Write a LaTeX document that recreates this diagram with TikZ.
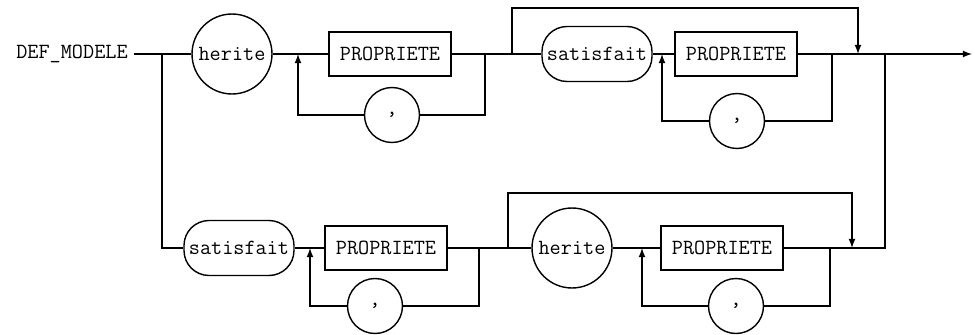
\documentclass[tikz,border=0pt]{standalone}
\usepackage{tikz}
\usetikzlibrary{positioning,arrows,calc}

\begin{document}
\begin{tikzpicture}[x=0.02cm, y=-0.02cm, thick, >=latex,
    every node/.style={font=\ttfamily\fontsize{12.3}{14}\selectfont},
    prop/.style={draw, rectangle, minimum width=2.44cm, minimum height=0.88cm, inner sep=0pt},
    rond/.style={draw, circle, minimum size=1.6cm, inner sep=0pt},
    virg/.style={draw, circle, minimum size=1.1cm, inner sep=0pt},
    ovale/.style={draw, rectangle, rounded corners=0.5cm, minimum width=2.2cm, minimum height=1.1cm, inner sep=0pt}]
    \useasboundingbox (0,0) rectangle (975,335);

    % premiere branche
    \node (def) at (72,54) {DEF\_MODELE};
    \node[rond] (herite1) at (232,54) {herite};
    \node[prop] (prop1) at (390,54) {PROPRIETE};
    \node[virg] (virg1) at (392,115) {,};
    \node[ovale] (sat1) at (597,54) {satisfait};
    \node[prop] (prop2) at (736,54) {PROPRIETE};
    \node[virg] (virg2) at (737,121) {,};

    % seconde branche
    \node[ovale] (sat2) at (239,248) {satisfait};
    \node[prop] (prop3) at (386,248) {PROPRIETE};
    \node[virg] (virg3) at (375,306) {,};
    \node[rond] (herite2) at (572,248) {herite};
    \node[prop] (prop4) at (722,248) {PROPRIETE};
    \node[virg] (virg4) at (736,306) {,};

    % points de jonction
    \coordinate (bas) at (162,54);
    \coordinate (b1) at (485,54);
    \coordinate (r1) at (298,54);
    \coordinate (s1) at (512,54);
    \coordinate (e1) at (858,54);
    \coordinate (b2) at (832,54);
    \coordinate (r2) at (662,54);
    \coordinate (j1) at (885,54);
    \coordinate (fin) at (972,54);
    \coordinate (b3) at (479,248);
    \coordinate (r3) at (310,248);
    \coordinate (s2) at (508,248);
    \coordinate (e2) at (852,248);
    \coordinate (b4) at (830,248);
    \coordinate (r4) at (642,248);
    \coordinate (j2) at (885,248);

    \draw (def) -- (herite1) -- (prop1) -- (sat1) -- (prop2);
    \draw[->] (prop2) -- (fin);
    \draw (bas) |- (sat2);
    \draw (sat2) -- (prop3) -- (herite2) -- (prop4) -- (j2) -- (j1);

    % boucles
    \draw (b1) |- (virg1);
    \draw[->] (virg1) -| (r1);
    \draw (b2) |- (virg2);
    \draw[->] (virg2) -| (r2);
    \draw (b3) |- (virg3);
    \draw[->] (virg3) -| (r3);
    \draw (b4) |- (virg4);
    \draw[->] (virg4) -| (r4);

    % sauts
    \draw[->] (s1) -- ++(0,-46) -| (e1);
    \draw[->] (s2) -- ++(0,-55) -| (e2);
\end{tikzpicture}
\end{document}
